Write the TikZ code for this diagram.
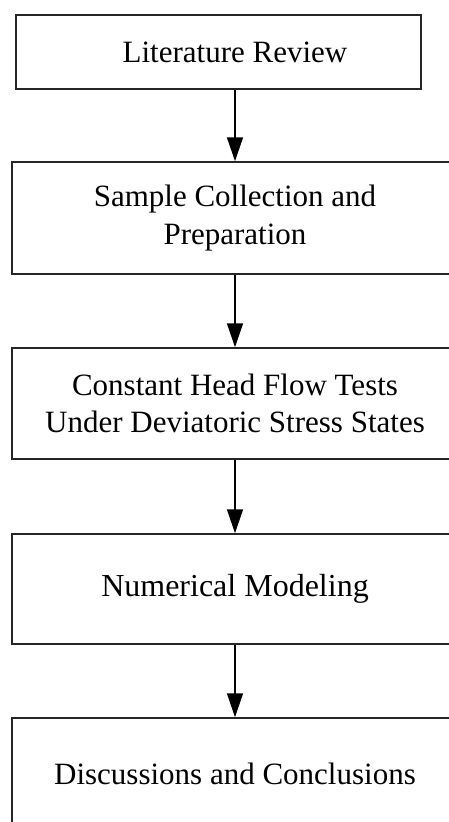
\documentclass[tikz,border=0pt]{standalone}
\usepackage{fontspec}
\setmainfont{Liberation Serif}
\usetikzlibrary{arrows.meta}
\begin{document}
\begin{tikzpicture}[x=1pt,y=-1pt,
  stepbox/.style={draw=black!85, line width=1.5pt, inner sep=0pt, align=center,
    font=\fontsize{31}{37.5}\selectfont},
  flow/.style={draw=black, line width=1.5pt, -{Triangle[length=24pt,width=16pt]}}]
\useasboundingbox (0,0) rectangle (449,822);
\clip (0,0) rectangle (449,822);
\node[stepbox, minimum width=405pt, minimum height=74pt] (lit) at (218.5,52) {};
\node at (235,52) {\fontsize{31}{37.5}\selectfont Literature Review};
\node[stepbox, minimum width=446pt, minimum height=112pt] (samp) at (235,218) {Sample Collection and\\Preparation};
\node[stepbox, minimum width=446pt, minimum height=111pt] (flowt) at (235,403.5) {Constant Head Flow Tests\\Under Deviatoric Stress States};
\node[stepbox, minimum width=446pt, minimum height=110pt, font=\fontsize{32}{38}\selectfont] (num) at (235,589) {Numerical Modeling};
\node[stepbox, minimum width=446pt, minimum height=112pt] (disc) at (235,774) {Discussions and Conclusions};
\draw[flow] (lit.south -| samp.north) -- (samp.north);
\draw[flow] (samp.south) -- (flowt.north);
\draw[flow] (flowt.south) -- (num.north);
\draw[flow] (num.south) -- (disc.north);
\end{tikzpicture}
\end{document}
